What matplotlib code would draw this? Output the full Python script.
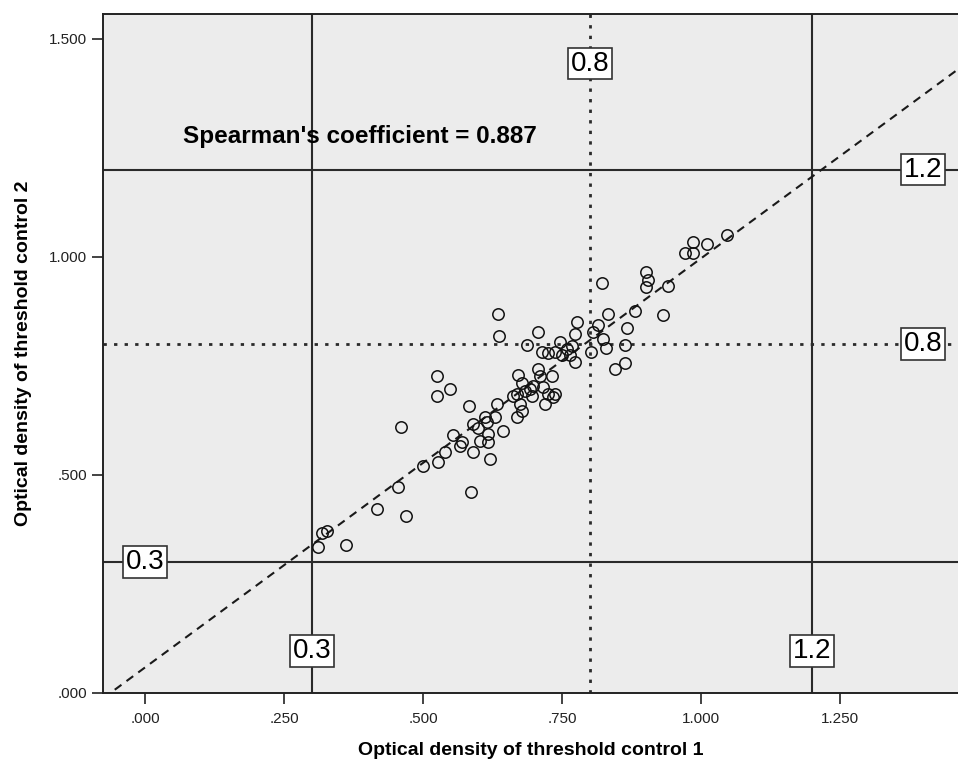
import matplotlib
matplotlib.use("Agg")
import matplotlib.pyplot as plt
import numpy as np

plt.rcParams['font.family'] = ['Liberation Sans', 'DejaVu Sans']

# optical densities
control1 = [1.047, 1.011, 0.986, 0.986, 0.971, 0.941, 0.932, 0.901, 0.905, 0.901,
            0.881, 0.833, 0.822, 0.867, 0.863, 0.863, 0.845, 0.829, 0.824, 0.806,
            0.815, 0.802, 0.777, 0.773, 0.768, 0.764, 0.773, 0.746, 0.759, 0.750,
            0.737, 0.725, 0.714, 0.707, 0.687, 0.637, 0.635, 0.707, 0.710, 0.732,
            0.671, 0.678, 0.698, 0.683, 0.669, 0.696, 0.716, 0.725, 0.734, 0.719,
            0.674, 0.678, 0.669, 0.662, 0.525, 0.525, 0.548, 0.583, 0.633, 0.611,
            0.629, 0.590, 0.599, 0.615, 0.617, 0.644, 0.554, 0.570, 0.566, 0.590,
            0.602, 0.617, 0.620, 0.539, 0.527, 0.500, 0.460, 0.455, 0.417, 0.469,
            0.586, 0.318, 0.327, 0.311, 0.361, 0.692, 0.737]
control2 = [1.051, 1.030, 1.035, 1.008, 1.010, 0.934, 0.866, 0.966, 0.948, 0.930,
            0.875, 0.870, 0.941, 0.836, 0.797, 0.756, 0.744, 0.792, 0.811, 0.827,
            0.843, 0.781, 0.850, 0.824, 0.795, 0.776, 0.758, 0.804, 0.788, 0.776,
            0.781, 0.779, 0.781, 0.827, 0.799, 0.818, 0.868, 0.744, 0.726, 0.726,
            0.730, 0.712, 0.703, 0.692, 0.685, 0.680, 0.701, 0.685, 0.678, 0.662,
            0.662, 0.646, 0.632, 0.680, 0.728, 0.680, 0.698, 0.657, 0.662, 0.634,
            0.632, 0.616, 0.607, 0.621, 0.593, 0.600, 0.591, 0.575, 0.566, 0.552,
            0.577, 0.575, 0.536, 0.552, 0.529, 0.520, 0.609, 0.472, 0.421, 0.405,
            0.460, 0.366, 0.371, 0.334, 0.339, 0.696, 0.685]

# fitted line y = a + b*x
fit_a = 0.059
fit_b = 0.9375

solid_cut = [0.3, 1.2]
dotted_cut = [0.8]

xticks = [0.0, 0.25, 0.5, 0.75, 1.0, 1.25]
xticklabels = ['.000', '.250', '.500', '.750', '1.000', '1.250']
yticks = [0.0, 0.5, 1.0, 1.5]
yticklabels = ['.000', '.500', '1.000', '1.500']

fig = plt.figure(figsize=(9.58, 7.64), dpi=100)
ax = fig.add_axes([103/958, 1-693/764, (958-103)/958, (693-14)/764])
ax.set_facecolor('#ececec')
ax.set_xlim(-0.0761, 1.4626)
ax.set_ylim(0, 1.557)

for v in solid_cut:
    ax.axhline(v, color='#2a2a2a', lw=1.5, zorder=1)
    ax.axvline(v, color='#2a2a2a', lw=1.5, zorder=1)
for v in dotted_cut:
    ax.axhline(v, color='#2a2a2a', lw=2, ls=(0, (1.2, 2.6)), zorder=1)
    ax.axvline(v, color='#2a2a2a', lw=2, ls=(0, (1.2, 2.6)), zorder=1)

xs = np.array(ax.get_xlim())
ax.plot(xs, fit_a + fit_b*xs, color='#1a1a1a', lw=1.5, ls=(0, (4, 3)), zorder=2)

ax.plot(control1, control2, 'o', ms=8.2, mfc='none', mec='#111111', mew=1.1, zorder=3)

box = dict(boxstyle='square,pad=0.1', fc='white', ec='#333333', lw=1.2)
ax.text(0.0, 0.3, '0.3', fontsize=20, ha='center', va='center', bbox=box, zorder=5)
ax.text(0.3, 0.096, '0.3', fontsize=20, ha='center', va='center', bbox=box, zorder=5)
ax.text(1.2, 0.096, '1.2', fontsize=20, ha='center', va='center', bbox=box, zorder=5)
ax.text(1.40, 1.2, '1.2', fontsize=20, ha='center', va='center', bbox=box, zorder=5)
ax.text(1.40, 0.8, '0.8', fontsize=20, ha='center', va='center', bbox=box, zorder=5)
ax.text(0.8, 1.443, '0.8', fontsize=20, ha='center', va='center', bbox=box, zorder=5)

ax.text(0.068, 1.275, "Spearman's coefficient = 0.887", fontsize=17.5, fontweight='bold',
        ha='left', va='center', zorder=5)

ax.set_xticks(xticks)
ax.set_xticklabels(xticklabels)
ax.set_yticks(yticks)
ax.set_yticklabels(yticklabels)
ax.tick_params(direction='out', length=8, width=1.2, labelsize=11, colors='#222222')
ax.tick_params(axis='x', pad=6)

for s in ['left', 'bottom', 'top']:
    ax.spines[s].set_linewidth(1.4)
    ax.spines[s].set_color('#222222')
ax.spines['right'].set_visible(False)

ax.set_xlabel('Optical density of threshold control 1', fontsize=14, fontweight='bold', labelpad=11)
ax.set_ylabel('Optical density of threshold control 2', fontsize=14, fontweight='bold', labelpad=12)

fig.savefig('out.png', dpi=100)
